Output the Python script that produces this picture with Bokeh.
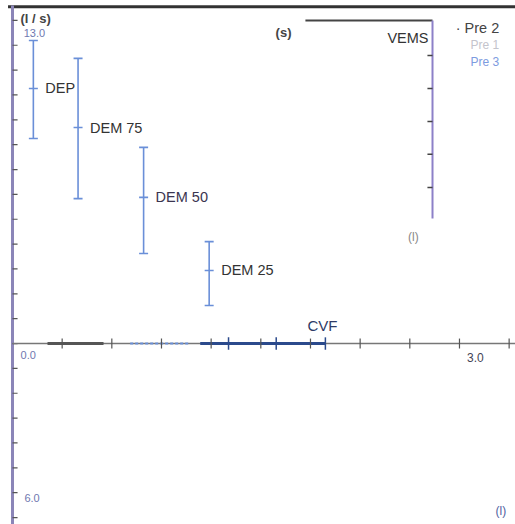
from bokeh.plotting import figure
from bokeh.models import Range1d, ColumnDataSource, Whisker, TeeHead
from bokeh.core.properties import value
from bokeh.embed import file_html
from bokeh.resources import INLINE

FONT = "Liberation Sans"

# ---- data ----
labels = ["DEP", "DEM 75", "DEM 50", "DEM 25"]
vol = [0.14, 0.44, 0.88, 1.32]          # volume (l)
flow = [10.26, 8.69, 5.88, 2.94]        # flow (l/s)
flow_hi = [12.19, 11.47, 7.89, 4.10]
flow_lo = [8.25, 5.83, 3.62, 1.53]
label_colors = ["#333333", "#333333", "#3a3550", "#333333"]
cvf = 2.10
flow_ticks = list(range(-7, 14))
vol_ticks = [1/3, 2/3, 1.0, 4/3, 5/3, 2.0, 7/3, 8/3, 3.0, 10/3]
cvf_ticks = [1.45, 1.77, 2.10]
vems_ticks = [11.59, 10.26, 8.93, 7.61, 6.28]
legend_names = ["· Pre 2", "Pre 1", "Pre 3"]

p = figure(width=515, height=524, output_backend="svg", toolbar_location=None,
           x_range=Range1d(-0.0805, 3.376), y_range=Range1d(-7.28, 13.80),
           x_axis_type=None, y_axis_type=None, min_border=0)
p.grid.visible = False
p.outline_line_color = None
p.background_fill_color = "white"

# top frame line
p.segment(x0=[-0.03], y0=[13.55], x1=[3.40], y1=[13.55], line_color="#333333", line_width=3)

# left flow axis
p.segment(x0=[0], y0=[-7.3], x1=[0], y1=[13.6], line_color="#8b85b8", line_width=3)
p.segment(x0=[0]*len(flow_ticks), y0=flow_ticks, x1=[0.034]*len(flow_ticks), y1=flow_ticks,
          line_color="#555555", line_width=1.2)

# volume axis
p.segment(x0=[0], y0=[0], x1=[3.40], y1=[0], line_color="#777777", line_width=1.5)
p.segment(x0=[0.235], y0=[0], x1=[0.611], y1=[0], line_color="#555555", line_width=3)
p.segment(x0=[0.79], y0=[0], x1=[1.19], y1=[0], line_color="#6a8fd8", line_width=2, line_dash="3 2")
p.segment(x0=[1.26], y0=[0], x1=[cvf], y1=[0], line_color="#2b4a8c", line_width=3)
p.segment(x0=vol_ticks, y0=[-0.2]*len(vol_ticks), x1=vol_ticks, y1=[0.2]*len(vol_ticks),
          line_color="#555555", line_width=1.2)
p.segment(x0=cvf_ticks, y0=[-0.25]*3, x1=cvf_ticks, y1=[0.25]*3, line_color="#2b4a8c", line_width=1.5)

# error bars
src = ColumnDataSource(dict(vol=vol, flow=flow, hi=flow_hi, lo=flow_lo, lab=labels, col=label_colors))
w = Whisker(source=src, base="vol", upper="hi", lower="lo", dimension="height",
            line_color="#6a8fd8", line_width=1.6,
            upper_head=TeeHead(size=9, line_color="#6a8fd8", line_width=1.6),
            lower_head=TeeHead(size=9, line_color="#6a8fd8", line_width=1.6))
p.add_layout(w)
p.scatter(x="vol", y="flow", source=src, marker="dash", size=9, line_color="#6a8fd8", line_width=1.6)
p.text(x="vol", y="flow", text="lab", source=src, x_offset=12, text_font=value(FONT),
       text_font_size="14.5px", text_color="col", text_baseline="middle", text_align="left")

# CVF label
p.text(x=[cvf - 0.02], y=[0.73], text=["CVF"], text_font=value(FONT), text_font_size="15px",
       text_color="#2d3a66", text_baseline="middle", text_align="center")

# VEMS inset
p.segment(x0=[1.966], y0=[13.0], x1=[2.819], y1=[13.0], line_color="#444444", line_width=2)
p.segment(x0=[2.819], y0=[13.0], x1=[2.819], y1=[5.03], line_color="#8d80c8", line_width=2)
p.segment(x0=[2.785]*len(vems_ticks), y0=vems_ticks, x1=[2.819]*len(vems_ticks), y1=vems_ticks,
          line_color="#444444", line_width=1.5)
p.text(x=[1.819], y=[12.51], text=["(s)"], text_font=value(FONT), text_font_size="13px",
       text_font_style="bold", text_color="#444444", text_baseline="middle", text_align="center")
p.text(x=[2.792], y=[12.31], text=["VEMS"], text_font=value(FONT), text_font_size="14.5px",
       text_color="#333333", text_baseline="middle", text_align="right")
p.text(x=[2.691], y=[4.27], text=["(l)"], text_font=value(FONT), text_font_size="12px",
       text_color="#888888", text_baseline="middle", text_align="center")

# legend
p.text(x=[2.975, 3.074, 3.074], y=[12.68, 11.99, 11.31], text=legend_names,
       text_font=value(FONT), text_font_size=["14.5px", "12px", "12px"],
       text_color=["#444444", "#c4c4cc", "#7d9be0"], text_baseline="middle", text_align="left")

# axis texts
p.text(x=[0.054], y=[13.08], text=["(l / s)"], text_font=value(FONT), text_font_size="13px",
       text_font_style="bold", text_color="#444444", text_baseline="middle", text_align="left")
p.text(x=[0.075, 0.054, 0.08], y=[12.51, -0.48, -6.2], text=["13.0", "0.0", "6.0"],
       text_font=value(FONT), text_font_size="11px", text_color="#6f78b0",
       text_baseline="middle", text_align="left")
p.text(x=[3.107], y=[-0.56], text=["3.0"], text_font=value(FONT), text_font_size="12px",
       text_color="#444455", text_baseline="middle", text_align="center")
p.text(x=[3.242], y=[-6.72], text=["(l)"], text_font=value(FONT), text_font_size="12px",
       text_color="#5060a0", text_baseline="middle", text_align="left")

open("out.html", "w").write(file_html(p, INLINE))
